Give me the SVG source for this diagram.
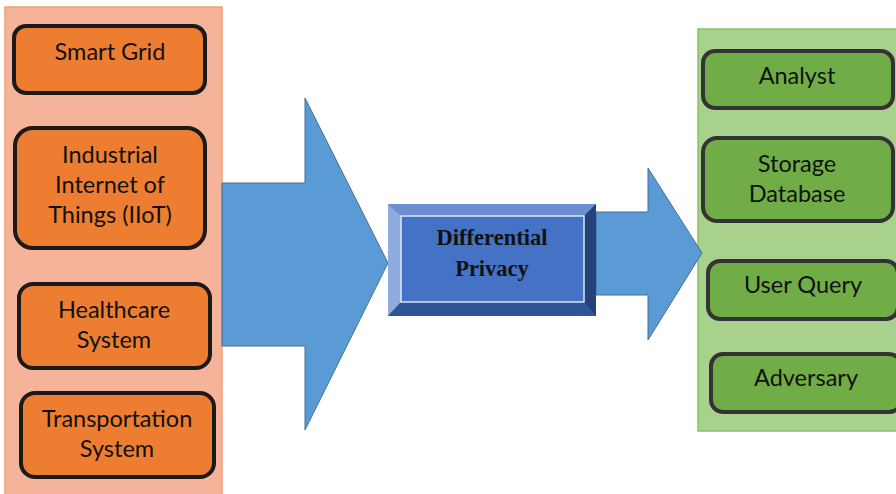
<svg xmlns="http://www.w3.org/2000/svg" width="896" height="494" viewBox="0 0 896 494">
<style>
.lbl{font-family:Lato,"Open Sans","Liberation Sans",sans-serif;font-size:23.5px;fill:#111;text-anchor:middle}
.ob{fill:#ed7d31;stroke:#1a1a1a;stroke-width:4}
.gb{fill:#70ad47;stroke:#333;stroke-width:4}
.arr{fill:#5b9bd5;stroke:#41719c;stroke-width:1}
.dp{font-family:"Liberation Serif",serif;font-size:22.5px;font-weight:bold;fill:#111;text-anchor:middle}
</style>
<rect id="leftPanel" x="5" y="7" width="217" height="490" fill="#f5b49a" stroke="#f4a070" stroke-width="1.5"/>
<rect id="rightPanel" x="698" y="29" width="200" height="402" fill="#a9d18e" stroke="#8cc168" stroke-width="1.5"/>
<g id="connectors">
<polygon class="arr" points="222,183 305,183 305,98 388,263 305,430 305,346 222,346"/>
<polygon class="arr" points="596,212 648,212 648,168 702,253 648,340 648,295 596,295"/>
</g>
<g id="smartGrid">
<rect class="ob" x="14" y="26" width="191" height="67" rx="12"/>
<text class="lbl" x="110" y="60">Smart Grid</text>
</g>
<g id="iiot">
<rect class="ob" x="15" y="128" width="190" height="120" rx="18"/>
<text class="lbl" x="110" y="163">Industrial</text>
<text class="lbl" x="110" y="193">Internet of</text>
<text class="lbl" x="110" y="223">Things (IIoT)</text>
</g>
<g id="healthcare">
<rect class="ob" x="19" y="284" width="191" height="84" rx="14"/>
<text class="lbl" x="114" y="318">Healthcare</text>
<text class="lbl" x="114" y="348">System</text>
</g>
<g id="transportation">
<rect class="ob" x="21" y="393" width="193" height="84" rx="14"/>
<text class="lbl" x="117" y="427">Transportation</text>
<text class="lbl" x="117" y="457">System</text>
</g>
<g id="differentialPrivacy">
<rect x="388" y="204" width="208" height="112" fill="#4472c4"/>
<polygon points="388,204 596,204 584,216 401,216" fill="#6d8fd2"/>
<polygon points="388,204 401,216 401,302 388,316" fill="#8faadc"/>
<polygon points="388,316 401,302 584,302 596,316" fill="#2f5597"/>
<polygon points="596,204 596,316 584,302 584,216" fill="#23427a"/>
<rect x="401" y="216" width="183" height="86" fill="#4472c4" stroke="#dfe7f5" stroke-width="1.5"/>
<text class="dp" x="492" y="245">Differential</text>
<text class="dp" x="492" y="276">Privacy</text>
</g>
<g id="analyst">
<rect class="gb" x="703" y="51" width="190" height="57" rx="12"/>
<text class="lbl" x="797" y="84">Analyst</text>
</g>
<g id="storage">
<rect class="gb" x="703" y="138" width="190" height="83" rx="14"/>
<text class="lbl" x="797" y="172">Storage</text>
<text class="lbl" x="797" y="202">Database</text>
</g>
<g id="userQuery">
<rect class="gb" x="708" y="261" width="190" height="58" rx="12"/>
<text class="lbl" x="803" y="293">User Query</text>
</g>
<g id="adversary">
<rect class="gb" x="711" y="354" width="190" height="58" rx="12"/>
<text class="lbl" x="806" y="386">Adversary</text>
</g>
</svg>
